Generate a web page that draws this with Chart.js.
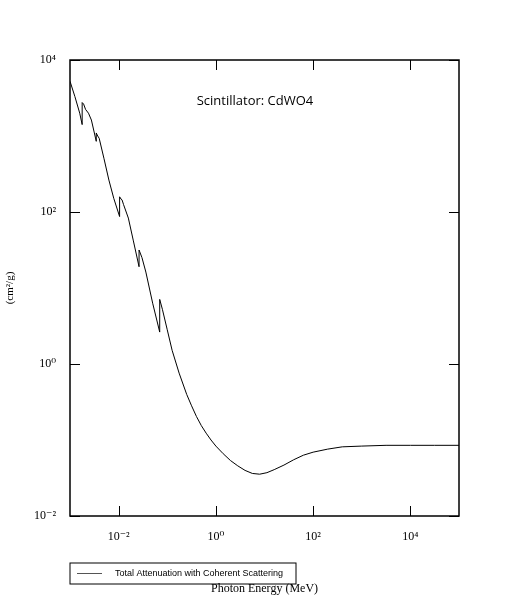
<!DOCTYPE html>
<html><head><meta charset="utf-8">
<script src="https://cdn.jsdelivr.net/npm/chart.js@4/dist/chart.umd.min.js"></script>
<style>html,body{margin:0;padding:0;background:#fff}</style>
</head><body>
<div style="width:505px;height:600px"><canvas id="c" width="505" height="600"></canvas></div>
<script>
// log10(energy MeV), log10(attenuation cm2/g)
const logEnergy = [-3.0,-2.9,-2.8,-2.75,-2.75,-2.72,-2.68,-2.62,-2.56,-2.46,-2.46,-2.43,-2.40,-2.30,-2.20,-2.10,-1.98,-1.98,-1.95,-1.93,-1.90,-1.80,-1.70,-1.58,-1.58,-1.52,-1.44,-1.30,-1.155,-1.155,-1.10,-1.00,-0.90,-0.756,-0.60,-0.50,-0.40,-0.30,-0.20,-0.10,0.0,0.15,0.30,0.45,0.60,0.75,0.90,1.05,1.20,1.40,1.60,1.80,2.00,2.30,2.60,3.00,3.50,4.00,4.50,5.0];
const logMu = [3.72,3.52,3.30,3.15,3.44,3.42,3.35,3.30,3.21,2.93,3.04,3.00,2.97,2.70,2.42,2.18,1.94,2.20,2.17,2.16,2.10,1.92,1.63,1.28,1.50,1.40,1.21,0.80,0.42,0.85,0.72,0.45,0.18,-0.12,-0.40,-0.55,-0.69,-0.81,-0.91,-1.00,-1.08,-1.18,-1.27,-1.34,-1.40,-1.44,-1.45,-1.43,-1.39,-1.33,-1.26,-1.20,-1.16,-1.12,-1.09,-1.08,-1.07,-1.07,-1.07,-1.07];
const xTicks = [1e-2,1e0,1e2,1e4];
const yTicks = [1e-2,1e0,1e2,1e4];
const xTickLabels = ['10⁻²','10⁰','10²','10⁴'];
const yTickLabels = ['10⁻²','10⁰','10²','10⁴'];
const seriesName = 'Total Attenuation with Coherent Scattering';
const annotation = 'Scintillator: CdWO4';

const pts = logEnergy.map((e,i)=>({x:Math.pow(10,e),y:Math.pow(10,logMu[i])}));
const serif = "'Liberation Serif', 'DejaVu Serif', serif";
const framePlugin = {
  id:'frame',
  afterDraw(ch){
    const {ctx, chartArea:a, scales:{x,y}} = ch;
    ctx.save();
    ctx.strokeStyle='#000'; ctx.lineWidth=1.5;
    ctx.strokeRect(a.left,a.top,a.right-a.left,a.bottom-a.top);
    ctx.lineWidth=1;
    xTicks.forEach(v=>{const p=Math.round(x.getPixelForValue(v))+0.5;
      ctx.beginPath();ctx.moveTo(p,a.bottom);ctx.lineTo(p,a.bottom-10);ctx.moveTo(p,a.top);ctx.lineTo(p,a.top+10);ctx.stroke();});
    yTicks.forEach(v=>{const p=Math.round(y.getPixelForValue(v))+0.5;
      ctx.beginPath();ctx.moveTo(a.left,p);ctx.lineTo(a.left+10,p);ctx.moveTo(a.right,p);ctx.lineTo(a.right-10,p);ctx.stroke();});
    ctx.fillStyle='#000';
    ctx.font="13px 'Open Sans', sans-serif";
    ctx.textAlign='center';ctx.textBaseline='middle';
    ctx.fillText(annotation,255,101);
    // legend
    ctx.strokeRect(70,563,226,21);
    ctx.strokeStyle='#555';
    ctx.beginPath();ctx.moveTo(77,573.5);ctx.lineTo(102,573.5);ctx.stroke();
    ctx.font="9px 'Liberation Sans', Arial, sans-serif";
    ctx.textAlign='left';
    ctx.fillText(seriesName,115,573.5);
    ctx.restore();
  }
};
new Chart(document.getElementById('c'),{
  type:'line',
  data:{datasets:[{label:seriesName,data:pts,borderColor:'#000',borderWidth:1,pointRadius:0,tension:0,fill:false}]},
  options:{
    responsive:false,animation:false,
    layout:{padding:{left:0,top:60,right:46,bottom:0}},
    plugins:{legend:{display:false},tooltip:{enabled:false}},
    scales:{
      x:{type:'logarithmic',min:1e-3,max:1e5,
        grid:{display:false},border:{display:false},
        afterBuildTicks(s){s.ticks=xTicks.map(v=>({value:v}));},
        afterFit(s){s.height=84;},
        ticks:{color:'#000',font:{family:serif,size:12},padding:6,maxRotation:0,
          callback:(v)=>xTickLabels[xTicks.indexOf(v)]},
        title:{display:true,text:'Photon Energy (MeV)',color:'#000',font:{family:serif,size:12},padding:{top:0}}},
      y:{type:'logarithmic',min:1e-2,max:1e4,
        grid:{display:false},border:{display:false},
        afterBuildTicks(s){s.ticks=yTicks.map(v=>({value:v}));},
        afterFit(s){s.width=70;},
        ticks:{color:'#000',font:{family:serif,size:12},padding:6,
          callback:(v)=>yTickLabels[yTicks.indexOf(v)]},
        title:{display:true,text:'(cm²/g)',color:'#000',font:{family:serif,size:11},padding:{bottom:8}}}
    }
  },
  plugins:[framePlugin]
});
</script>
</body></html>
